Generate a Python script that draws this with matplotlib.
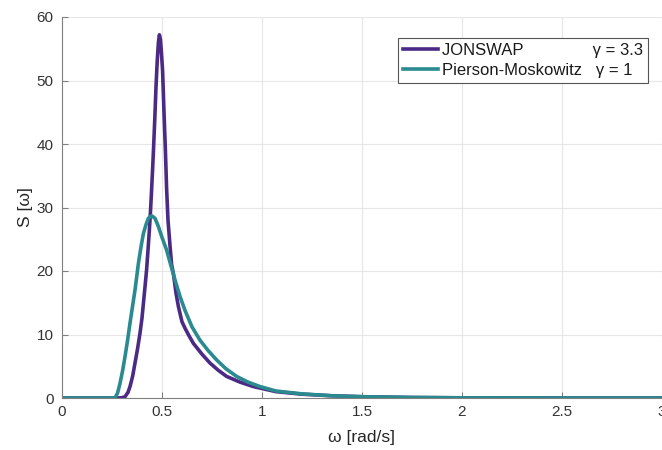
import matplotlib
matplotlib.use("Agg")
import matplotlib.pyplot as plt

plt.rcParams['font.family'] = ['Liberation Sans', 'DejaVu Sans']

# JONSWAP spectrum (gamma = 3.3)
w_j = [0.0, 0.25, 0.28, 0.30, 0.315, 0.33, 0.34, 0.353, 0.365, 0.378, 0.39, 0.40,
       0.407, 0.415, 0.423, 0.43, 0.437, 0.443, 0.448, 0.453, 0.458, 0.464, 0.47,
       0.476, 0.482, 0.487, 0.492, 0.497, 0.503, 0.51, 0.517, 0.523, 0.53, 0.54,
       0.548, 0.557, 0.57, 0.582, 0.60, 0.615, 0.635, 0.657, 0.70, 0.74, 0.78, 0.823,
       0.89, 0.957, 1.07, 1.2, 1.35, 1.5, 1.75, 2.0, 2.5, 3.0]
S_j = [0.0, 0.0, 0.0, 0.05, 0.2, 0.9, 1.8, 3.4, 5.5, 7.8, 10.2, 12.6,
       14.9, 17.5, 20.2, 23.3, 26.5, 29.7, 32.8, 36.0, 39.5, 44.0, 49.0,
       53.0, 56.0, 57.2, 56.5, 54.5, 51.5, 45.0, 39.0, 33.0, 28.0, 24.0,
       21.0, 19.6, 16.5, 14.4, 12.0, 11.0, 9.8, 8.6, 6.9, 5.5, 4.4, 3.4,
       2.5, 1.8, 1.0, 0.6, 0.35, 0.2, 0.08, 0.03, 0.0, 0.0]

# Pierson-Moskowitz spectrum (gamma = 1)
w_p = [0.0, 0.24, 0.265, 0.278, 0.29, 0.303, 0.315, 0.328, 0.34, 0.353, 0.365, 0.374,
       0.382, 0.395, 0.407, 0.42, 0.432, 0.448, 0.465, 0.482, 0.50, 0.523, 0.545,
       0.565, 0.59, 0.615, 0.65, 0.69, 0.73, 0.773, 0.82, 0.873, 0.93, 0.99, 1.07,
       1.2, 1.35, 1.5, 1.75, 2.0, 2.5, 3.0]
S_p = [0.0, 0.0, 0.0, 0.8, 2.3, 4.3, 6.5, 9.1, 11.8, 14.5, 17.0, 19.2,
       21.2, 23.8, 25.9, 27.3, 28.3, 28.7, 28.3, 27.0, 25.3, 23.3, 20.8,
       18.6, 16.0, 13.8, 11.2, 9.1, 7.5, 6.0, 4.6, 3.4, 2.5, 1.8, 1.1,
       0.65, 0.35, 0.2, 0.08, 0.03, 0.0, 0.0]

x_ticks = [0, 0.5, 1, 1.5, 2, 2.5, 3]
x_tick_labels = ['0', '0.5', '1', '1.5', '2', '2.5', '3']
y_ticks = [0, 10, 20, 30, 40, 50, 60]

fig = plt.figure(figsize=(6.62, 4.5), dpi=100)
ax = fig.add_axes([62/662, 52/450, 600/662, 381/450])

c_j = '#4A2A84'
c_p = '#2A8A8F'
ax.plot(w_j, S_j, color=c_j, lw=2.6, solid_joinstyle='round',
        label='JONSWAP' + ' ' * 15 + 'γ = 3.3')
ax.plot(w_p, S_p, color=c_p, lw=2.6, solid_joinstyle='round',
        label='Pierson-Moskowitz' + ' ' * 3 + 'γ = 1')

ax.set_xlim(0, 3)
ax.set_ylim(0, 60)
ax.set_xticks(x_ticks)
ax.set_xticklabels(x_tick_labels)
ax.set_yticks(y_ticks)
ax.grid(True, color='#e6e6e6', lw=0.8)
ax.set_axisbelow(True)
for s in ['top', 'right']:
    ax.spines[s].set_visible(False)
for s in ['left', 'bottom']:
    ax.spines[s].set_color('#808080')
    ax.spines[s].set_linewidth(0.8)
ax.tick_params(axis='both', colors='#808080', labelcolor='#333333', labelsize=11,
               direction='in', length=4, width=0.8, pad=6)
ax.tick_params(axis='x', pad=5)
ax.set_xlabel('ω [rad/s]', fontsize=12.5, color='#262626', labelpad=8)
ax.set_ylabel('S [ω]', fontsize=12.5, color='#262626', labelpad=3)

leg = ax.legend(loc='upper right', bbox_to_anchor=((648 - 62) / 600, (398 - 38) / 381),
                borderaxespad=0, fontsize=12, fancybox=False, framealpha=1,
                edgecolor='#555555', handlelength=2.1, handletextpad=0.25,
                borderpad=0.3, labelspacing=0.3)
leg.get_frame().set_linewidth(0.8)
for t in leg.get_texts():
    t.set_color('#1a1a1a')

fig.savefig('out.png', dpi=100)
